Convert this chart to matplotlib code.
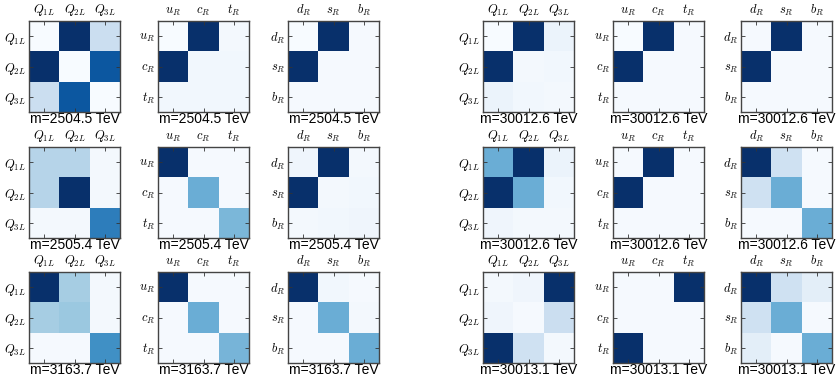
import numpy as np
import matplotlib
matplotlib.use('Agg')
import matplotlib.pyplot as plt

plt.rcParams['mathtext.fontset'] = 'cm'
plt.rcParams['font.family'] = ['Liberation Sans', 'DejaVu Sans']

# flavour labels for the three sectors
q_labels = [r'$Q_{1L}$', r'$Q_{2L}$', r'$Q_{3L}$']
u_labels = [r'$u_R$', r'$c_R$', r'$t_R$']
d_labels = [r'$d_R$', r'$s_R$', r'$b_R$']

# masses (TeV) per row, left block and right block
masses_left = [2504.5, 2505.4, 3163.7]
masses_right = [30012.6, 30012.6, 30013.1]

# left block matrices
q_left = [
    [[0.00, 1.00, 0.22], [1.00, 0.00, 0.85], [0.22, 0.85, 0.00]],
    [[0.30, 0.30, 0.02], [0.30, 1.00, 0.02], [0.02, 0.02, 0.70]],
    [[1.00, 0.35, 0.02], [0.35, 0.38, 0.02], [0.01, 0.01, 0.63]],
]
u_left = [
    [[0.00, 1.00, 0.02], [1.00, 0.03, 0.03], [0.03, 0.03, 0.03]],
    [[1.00, 0.01, 0.01], [0.01, 0.50, 0.01], [0.01, 0.01, 0.46]],
    [[1.00, 0.01, 0.01], [0.01, 0.50, 0.01], [0.01, 0.01, 0.47]],
]
d_left = [
    [[0.00, 1.00, 0.01], [1.00, 0.01, 0.01], [0.01, 0.01, 0.01]],
    [[0.04, 1.00, 0.02], [1.00, 0.02, 0.03], [0.02, 0.03, 0.04]],
    [[1.00, 0.03, 0.01], [0.01, 0.50, 0.02], [0.01, 0.01, 0.50]],
]

# right block matrices
q_right = [
    [[0.00, 1.00, 0.06], [1.00, 0.02, 0.03], [0.06, 0.03, 0.02]],
    [[0.50, 1.00, 0.06], [1.00, 0.50, 0.03], [0.04, 0.02, 0.02]],
    [[0.02, 0.04, 1.00], [0.04, 0.01, 0.22], [1.00, 0.20, 0.02]],
]
u_right = [
    [[0.00, 1.00, 0.01], [1.00, 0.01, 0.01], [0.01, 0.01, 0.01]],
    [[0.01, 1.00, 0.01], [1.00, 0.01, 0.01], [0.01, 0.01, 0.01]],
    [[0.01, 0.01, 1.00], [0.01, 0.01, 0.01], [1.00, 0.01, 0.01]],
]
d_right = [
    [[0.01, 1.00, 0.01], [1.00, 0.01, 0.01], [0.01, 0.01, 0.01]],
    [[1.00, 0.20, 0.01], [0.20, 0.50, 0.01], [0.01, 0.01, 0.50]],
    [[1.00, 0.20, 0.10], [0.20, 0.50, 0.01], [0.10, 0.01, 0.50]],
]

W, H = 838, 380
fig = plt.figure(figsize=(W / 100, H / 100), dpi=100)

col_x = [29, 158, 288, 483, 613, 741]
row_y = [21, 147, 272]
size = 91


def draw_panel(ax, mat, labels, mass):
    ax.imshow(np.array(mat), cmap='Blues', vmin=0, vmax=1,
              interpolation='nearest', aspect='equal')
    ax.set_xticks(range(3))
    ax.set_yticks(range(3))
    ax.set_xticklabels(labels, fontsize=9)
    ax.set_yticklabels(labels, fontsize=9)
    ax.tick_params(direction='in', length=3, width=0.6, color='#333333',
                   top=True, bottom=True, left=True, right=True,
                   labeltop=True, labelbottom=False, pad=2)
    for s in ax.spines.values():
        s.set_color('#444444')
        s.set_linewidth(1.0)
    ax.set_xlabel('m={0} TeV'.format(mass), fontsize=10, labelpad=0)


sectors_left = [(q_left, q_labels), (u_left, u_labels), (d_left, d_labels)]
sectors_right = [(q_right, q_labels), (u_right, u_labels), (d_right, d_labels)]

for r in range(3):
    for c in range(6):
        if c < 3:
            mats, labels = sectors_left[c]
            mass = masses_left[r]
        else:
            mats, labels = sectors_right[c - 3]
            mass = masses_right[r]
        x0 = col_x[c] / W
        y0 = 1 - (row_y[r] + size) / H
        ax = fig.add_axes([x0, y0, size / W, size / H])
        draw_panel(ax, mats[r], labels, mass)

fig.savefig('out.png', dpi=100)
